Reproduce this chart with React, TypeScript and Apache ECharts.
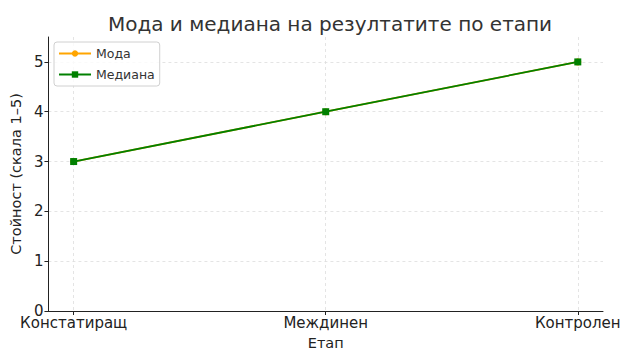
import React, { useEffect, useRef } from "react";
import * as echarts from "echarts";

const categories = ["Констатиращ", "Междинен", "Контролен"];
const modeValues = [3, 4, 5];
const medianValues = [3, 4, 5];
const yTicks = [0, 1, 2, 3, 4, 5];

const FONT = "DejaVu Sans";

export default function App() {
  const ref = useRef<HTMLDivElement>(null);
  useEffect(() => {
    if (!ref.current) return;
    const chart = echarts.init(ref.current, null, { renderer: "svg" });
    const idx = categories.map((_, i) => i);
    chart.setOption({
      animation: false,
      textStyle: { fontFamily: FONT },
      title: {
        text: "Мода и медиана на резултатите по етапи",
        left: 325,
        textAlign: "center",
        top: 9,
        textStyle: { fontFamily: FONT, fontSize: 20, fontWeight: "normal", color: "#333" },
      },
      legend: {
        left: 54,
        top: 42,
        orient: "vertical",
        itemGap: 8,
        itemWidth: 32,
        itemHeight: 8,
        padding: [5, 5, 5, 4],
        borderColor: "#d0d0d0",
        borderWidth: 1,
        borderRadius: 3,
        backgroundColor: "rgba(255,255,255,0.8)",
        textStyle: { fontFamily: FONT, fontSize: 12.5, color: "#333" },
        data: ["Мода", "Медиана"],
      },
      grid: { left: 47, right: 35, top: 37, bottom: 53, containLabel: false },
      xAxis: {
        type: "value",
        min: -0.1,
        max: 2.1,
        name: "Етап",
        nameLocation: "middle",
        nameGap: 24,
        nameTextStyle: { fontFamily: FONT, fontSize: 14.5, color: "#222" },
        axisLine: { onZero: false, lineStyle: { color: "#222", width: 1 } },
        axisTick: { show: true, length: 4, lineStyle: { color: "#222" }, customValues: idx },
        axisLabel: {
          customValues: idx,
          fontFamily: FONT,
          fontSize: 15,
          color: "#222",
          margin: 4,
          formatter: (v: number) => categories[Math.round(v)] ?? "",
        },
        splitLine: { show: true, lineStyle: { color: "#dddddd", type: [3, 3], width: 0.8 } },
      },
      yAxis: {
        type: "value",
        min: 0,
        max: 5.5,
        name: "Стойност (скала 1–5)",
        nameLocation: "middle",
        nameGap: 17,
        nameTextStyle: { fontFamily: FONT, fontSize: 14.5, color: "#222" },
        axisLine: { show: true, onZero: false, lineStyle: { color: "#222", width: 1 } },
        axisTick: { show: true, length: 4, lineStyle: { color: "#222" }, customValues: yTicks },
        axisLabel: { customValues: yTicks, fontFamily: FONT, fontSize: 15, color: "#222", margin: 5 },
        splitLine: { show: true, lineStyle: { color: "#dddddd", type: [3, 3], width: 0.8 } },
      },
      series: [
        {
          name: "Мода",
          type: "line",
          data: modeValues.map((v, i) => [i, v]),
          symbol: "circle",
          symbolSize: 7,
          itemStyle: { color: "#FFA500" },
          lineStyle: { color: "#FFA500", width: 1.8 },
          z: 2,
        },
        {
          name: "Медиана",
          type: "line",
          data: medianValues.map((v, i) => [i, v]),
          symbol: "rect",
          symbolSize: 7,
          itemStyle: { color: "#008000" },
          lineStyle: { color: "#008000", width: 1.8 },
          z: 3,
        },
      ],
    });
    return () => chart.dispose();
  }, []);
  return <div ref={ref} style={{ width: 638, height: 364, position: "absolute", left: 0, top: 0 }} />;
}
